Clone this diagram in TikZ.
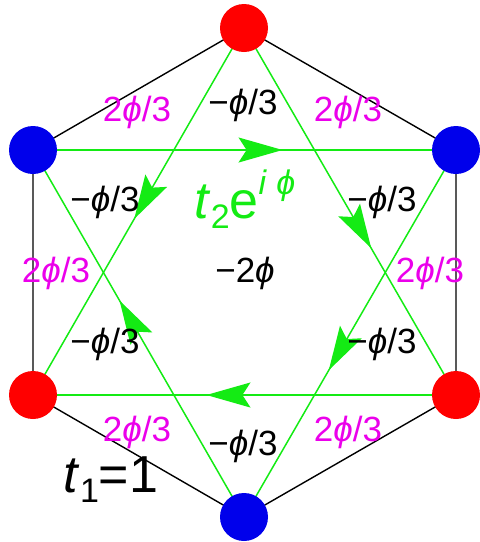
\documentclass[tikz,border=0pt]{standalone}
\usepackage{fontspec}
\setmainfont{Liberation Sans}
\usetikzlibrary{arrows.meta,decorations.markings,backgrounds}
\definecolor{siteRed}{RGB}{255,0,0}
\definecolor{siteBlue}{RGB}{0,0,235}
\definecolor{hopGreen}{RGB}{20,235,20}
\definecolor{phaseMag}{RGB}{235,0,235}
\begin{document}
\begin{tikzpicture}[x=0.5pt,y=-0.5pt,
    site/.style={circle,minimum size=24pt,inner sep=0pt},
    bond/.style={black,line width=0.7pt},
    hop/.style={draw=hopGreen,line width=0.75pt,postaction={decorate},
      decoration={markings,mark=at position #1 with {\arrow[hopGreen]{Stealth[length=22pt,width=12.5pt,inset=4pt]}}}},
    phase/.style={text=phaseMag,font=\fontsize{17.5}{17.5}\selectfont,inner sep=0pt},
    flux/.style={font=\fontsize{17.5}{17.5}\selectfont,inner sep=0pt}
  ]
  \useasboundingbox (0,0) rectangle (479,542);
  \node[site,fill=siteRed] (top) at (244,28) {};
  \node[site,fill=siteBlue] (ur) at (456,150) {};
  \node[site,fill=siteRed] (lr) at (456,395) {};
  \node[site,fill=siteBlue] (bot) at (244,517) {};
  \node[site,fill=siteRed] (ll) at (33,395) {};
  \node[site,fill=siteBlue] (ul) at (33,150) {};

  \begin{scope}[on background layer]
    \draw[bond] (top.center) -- (ur.center) -- (lr.center) -- (bot.center) -- (ll.center) -- (ul.center) -- cycle;
    \draw[hop=0.59] (ul.center) -- (ur.center);
    \draw[hop=0.6] (ur.center) -- (bot.center);
    \draw[hop=0.59] (bot.center) -- (ul.center);
    \draw[hop=0.6] (top.center) -- (lr.center);
    \draw[hop=0.59] (lr.center) -- (ll.center);
    \draw[hop=0.52] (top.center) -- (ll.center);
  \end{scope}

  \node[flux] (ftop) at (243,105) {−\textit{ϕ}/3};
  \node[flux] (ful) at (105,202) {−\textit{ϕ}/3};
  \node[flux] (fur) at (382,202) {−\textit{ϕ}/3};
  \node[flux] (fll) at (105,344) {−\textit{ϕ}/3};
  \node[flux] (flr) at (382,344) {−\textit{ϕ}/3};
  \node[flux] (fbot) at (243,446) {−\textit{ϕ}/3};
  \node[flux] (fmid) at (245,273) {−2\textit{ϕ}};

  \node[phase] (pul) at (137,112) {2\textit{ϕ}/3};
  \node[phase] (pur) at (348,112) {2\textit{ϕ}/3};
  \node[phase] (pl) at (56,273) {2\textit{ϕ}/3};
  \node[phase] (pr) at (430,273) {2\textit{ϕ}/3};
  \node[phase] (pll) at (137,432) {2\textit{ϕ}/3};
  \node[phase] (plr) at (348,432) {2\textit{ϕ}/3};

  \node[text=hopGreen,inner sep=0pt,font=\fontsize{26}{26}\selectfont] (t2) at (245,199)
    {\textit{t}\raisebox{-5pt}{\fontsize{17}{17}\selectfont 2}e\raisebox{12pt}{\fontsize{17}{17}\selectfont\textit{i} \textit{ϕ}}};
  \node[inner sep=0pt,font=\fontsize{26}{26}\selectfont] (t1) at (111,480)
    {\textit{t}\raisebox{-5pt}{\fontsize{17}{17}\selectfont 1}=1};
\end{tikzpicture}
\end{document}
